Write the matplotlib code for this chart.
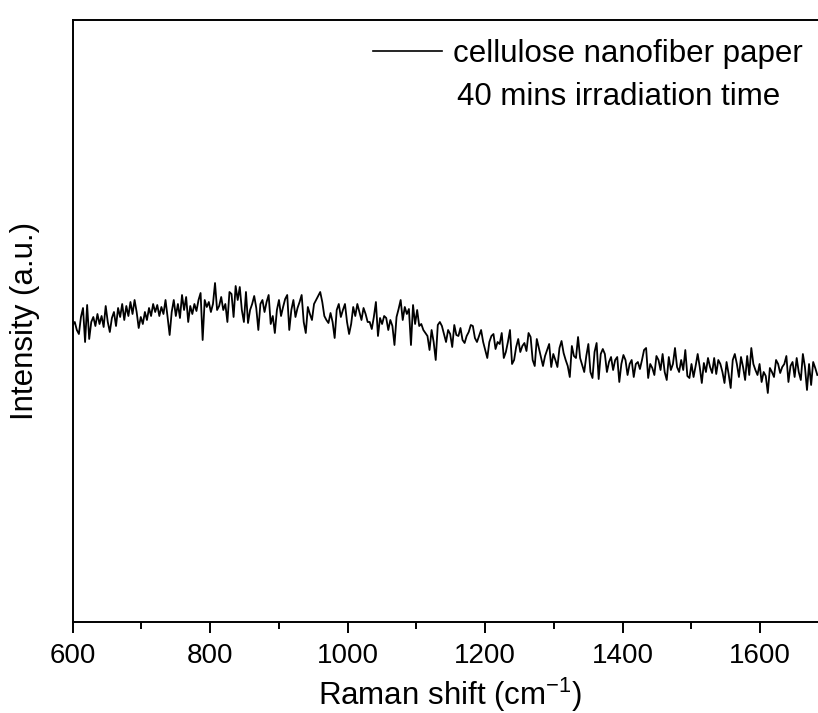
import numpy as np
import matplotlib
matplotlib.use("Agg")
import matplotlib.pyplot as plt
from matplotlib.ticker import MultipleLocator

plt.rcParams['font.family'] = ['Liberation Sans', 'DejaVu Sans']
plt.rcParams['mathtext.fontset'] = 'custom'
plt.rcParams['mathtext.rm'] = 'Liberation Sans'
plt.rcParams['mathtext.it'] = 'Liberation Sans:italic'

# Raman shift sampling (cm^-1), 3 cm^-1 step from 600 to 1683
raman_shift = np.arange(600, 1686, 3)

# Intensity (a.u.)
intensity_600_813 = [
    297, 300, 292, 288, 305, 314, 280, 317, 283, 300, 305, 296, 308, 298, 306, 295,
    316, 300, 290, 304, 310, 296, 314, 305, 318, 302, 316, 306, 320, 308, 322, 310,
    294, 305, 298, 310, 302, 314, 306, 318, 310, 317, 306, 315, 308, 322, 305, 287,
    310, 322, 306, 318, 304, 327, 312, 325, 300, 316, 308, 318, 311, 322, 329, 282,
    322, 315, 320, 310, 318, 339, 312, 316,
]
intensity_816_1029 = [
    325, 312, 318, 300, 330, 328, 305, 336, 322, 335, 312, 300, 330, 299, 312, 318,
    326, 314, 292, 318, 322, 310, 320, 327, 298, 306, 289, 312, 322, 306, 315, 323,
    327, 292, 312, 322, 305, 314, 320, 327, 300, 289, 315, 308, 302, 318, 322, 326,
    330, 320, 306, 302, 299, 309, 300, 284, 312, 318, 305, 312, 318, 300, 288, 298,
    315, 306, 318, 310, 302, 314, 308, 300,
]
intensity_1032_1245 = [
    300, 293, 305, 320, 286, 304, 298, 306, 304, 292, 302, 296, 277, 305, 313, 322,
    302, 315, 308, 313, 277, 317, 298, 312, 296, 298, 292, 289, 286, 272, 292, 280,
    262, 297, 300, 296, 288, 280, 292, 288, 275, 297, 287, 286, 294, 282, 279, 286,
    290, 297, 296, 284, 280, 286, 292, 280, 272, 264, 280, 286, 288, 273, 280, 278,
    289, 264, 270, 280, 292, 258, 262, 275,
]
intensity_1248_1458 = [
    283, 270, 276, 279, 271, 289, 285, 262, 256, 283, 274, 265, 256, 266, 272, 278,
    255, 268, 262, 255, 274, 281, 269, 262, 256, 245, 276, 266, 264, 285, 264, 257,
    250, 266, 278, 250, 244, 270, 279, 243, 268, 273, 268, 250, 260, 265, 252, 262,
    265, 240, 258, 267, 262, 247, 258, 262, 245, 258, 260, 253, 262, 272, 274, 244,
    258, 254, 247, 266, 262, 252, 268,
]
intensity_1461_1683 = [
    250, 242, 265, 252, 258, 274, 255, 250, 262, 252, 272, 246, 244, 258, 245, 256,
    268, 255, 239, 259, 250, 264, 255, 249, 264, 248, 262, 258, 250, 239, 260, 248,
    234, 262, 268, 258, 245, 265, 255, 242, 266, 247, 274, 258, 252, 247, 258, 240,
    250, 246, 229, 254, 250, 245, 262, 258, 249, 255, 258, 266, 240, 256, 260, 245,
    264, 250, 242, 268, 255, 232, 258, 237, 260, 254, 247,
]
intensity = np.array(intensity_600_813 + intensity_816_1029 + intensity_1032_1245
                     + intensity_1248_1458 + intensity_1461_1683)

series_label = "cellulose nanofiber paper"
note_text = "40 mins irradiation time"
x_major_ticks = [600, 800, 1000, 1200, 1400, 1600]

W, H = 818, 713
fig = plt.figure(figsize=(W / 100, H / 100), dpi=100)
ax_left, ax_right, ax_top, ax_bottom = 72.7, 829.0, 20.0, 622.0
ax = fig.add_axes([ax_left / W, 1 - ax_bottom / H,
                   (ax_right - ax_left) / W, (ax_bottom - ax_top) / H])

ax.plot(raman_shift, intensity, color='black', lw=1.3, label=series_label)

ax.set_xlim(600, 1700)
ax.set_ylim(0, 602)

ax.set_xticks(x_major_ticks)
ax.xaxis.set_minor_locator(MultipleLocator(100))
ax.set_yticks([])
ax.tick_params(axis='x', which='major', direction='out', length=8, width=1.4,
               labelsize=20, pad=7, top=False)
ax.tick_params(axis='x', which='minor', direction='out', length=5, width=1.4, top=False)
for s in ax.spines.values():
    s.set_linewidth(1.4)

ax.set_xlabel("Raman shift (cm$^{\\mathregular{-1}}$)", fontsize=22.5)
ax.xaxis.set_label_coords(0.4989, -0.089)
ax.set_ylabel("Intensity (a.u.)", fontsize=22.5)
ax.yaxis.set_label_coords(-0.043, 0.5)

leg = ax.legend(loc='upper left', bbox_to_anchor=(373 / W, 1 - 39 / H),
                bbox_transform=fig.transFigure, frameon=False, fontsize=22.5,
                handlelength=2.2, handletextpad=0.35, borderpad=0, borderaxespad=0)
for l in leg.get_lines():
    l.set_linewidth(1.2)

fig.text(456.7 / W, 1 - 105 / H, note_text, fontsize=22.5, ha='left', va='baseline')

fig.savefig("out.png", dpi=100)
